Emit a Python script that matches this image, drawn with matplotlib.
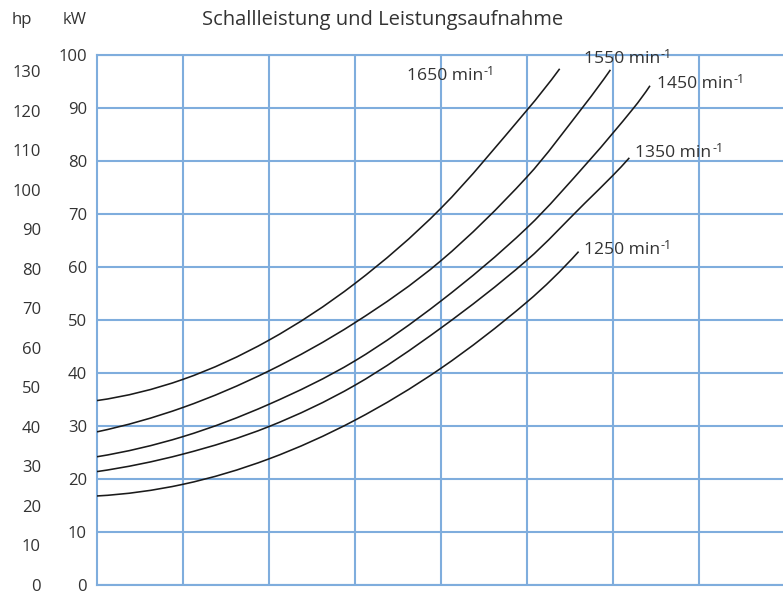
import matplotlib
matplotlib.use("Agg")
import matplotlib.pyplot as plt
import numpy as np
from matplotlib.path import Path
from matplotlib.patches import PathPatch

plt.rcParams['font.family'] = ['Open Sans', 'DejaVu Sans']

TITLE = "Schallleistung und Leistungsaufnahme"
KW_TICKS = list(range(0, 101, 10))
HP_TICKS = list(range(0, 131, 10))
KW_PER_HP = 0.7457

# curve values (grid crossings + line ends), x in grid units, y in kW
x_1650 = [0, 1, 2, 3, 4, 5, 5.38]
y_1650 = [34.8, 38.8, 46.2, 56.9, 71.1, 89.6, 97.4]

x_1550 = [0, 1, 2, 3, 4, 5, 5.67, 5.97]
y_1550 = [28.9, 33.5, 40.4, 49.5, 61.2, 77.0, 90.6, 97.2]

x_1450 = [0, 1, 2, 3, 4, 5, 5.73, 6.24, 6.43]
y_1450 = [24.2, 28.0, 34.1, 42.3, 53.6, 67.4, 80.2, 90.0, 94.2]

x_1350 = [0, 1, 2, 3, 4, 5, 5.67, 6, 6.19]
y_1350 = [21.4, 24.7, 29.9, 37.7, 48.5, 61.3, 72.0, 77.3, 80.6]

x_1250 = [0, 1, 2, 3, 4, 5, 5.60]
y_1250 = [16.8, 19.0, 23.8, 31.1, 40.9, 53.4, 62.9]

SPEEDS = ["1650", "1550", "1450", "1350", "1250"]
CURVES = [(x_1650, y_1650), (x_1550, y_1550), (x_1450, y_1450),
          (x_1350, y_1350), (x_1250, y_1250)]
# label anchor (left, baseline) in data units
LABEL_POS = [(3.60, 95.3), (5.66, 98.4), (6.51, 93.7), (6.26, 80.7), (5.66, 62.5)]

GRID = "#7FADDD"
TXT = "#333333"


def smooth_path(xs, ys):
    """Cubic Hermite (as bezier segments) through the read points."""
    x = np.asarray(xs, float)
    y = np.asarray(ys, float)
    m = np.empty_like(y)
    m[1:-1] = (y[2:] - y[:-2]) / (x[2:] - x[:-2])
    m[0] = 2 * (y[1] - y[0]) / (x[1] - x[0]) - m[1]
    m[-1] = 2 * (y[-1] - y[-2]) / (x[-1] - x[-2]) - m[-2]
    verts = [(x[0], y[0])]
    codes = [Path.MOVETO]
    for i in range(len(x) - 1):
        dx = x[i + 1] - x[i]
        verts += [(x[i] + dx / 3, y[i] + m[i] * dx / 3),
                  (x[i + 1] - dx / 3, y[i + 1] - m[i + 1] * dx / 3),
                  (x[i + 1], y[i + 1])]
        codes += [Path.CURVE4] * 3
    return Path(verts, codes)


W, H = 783, 594
fig = plt.figure(figsize=(W / 100, H / 100), dpi=100)
ax = fig.add_axes([97 / W, 9 / H, (W - 97) / W, (585 - 55) / H])

for (xs, ys) in CURVES:
    ax.add_patch(PathPatch(smooth_path(xs, ys), fill=False, edgecolor="#1a1a1a",
                           lw=1.15, capstyle="butt", zorder=3))

for sp, (lx, ly) in zip(SPEEDS, LABEL_POS):
    t = ax.text(lx, ly, f"{sp} min", fontsize=12.6, color=TXT,
                ha="left", va="baseline", zorder=4)
    ax.annotate("-1", xy=(1.0, 1.0), xycoords=t, xytext=(0.6, 2.2),
                textcoords="offset points", fontsize=9, color=TXT,
                ha="left", va="top", zorder=4)

ax.set_xlim(0, (W - 97) / 86)
ax.set_ylim(0, 100)
ax.set_xticks(range(1, 8))
ax.set_yticks(KW_TICKS)
ax.set_yticklabels([str(v) for v in KW_TICKS])
ax.tick_params(axis="x", length=0, labelbottom=False)
ax.tick_params(axis="y", length=0, pad=7.2, labelsize=12, labelcolor=TXT)
ax.grid(True, color=GRID, lw=1.5, zorder=1)
ax.set_axisbelow(True)
for side in ("left", "top", "bottom"):
    ax.spines[side].set_color(GRID)
    ax.spines[side].set_linewidth(1.5)
ax.spines["right"].set_visible(False)

sec = ax.secondary_yaxis("left", functions=(lambda kw: kw / KW_PER_HP,
                                            lambda hp: hp * KW_PER_HP))
sec.set_yticks(HP_TICKS)
sec.set_yticklabels([str(v) for v in HP_TICKS])
sec.tick_params(length=0, pad=40.3, labelsize=12, labelcolor=TXT)
sec.spines["left"].set_visible(False)

ty = 1 - 20 / H
fig.text(12 / W, ty, "hp", fontsize=12, color=TXT, ha="left", va="center")
fig.text(87 / W, ty, "kW", fontsize=12, color=TXT, ha="right", va="center")
fig.text(383 / W, ty, TITLE, fontsize=14.5, color=TXT, ha="center", va="center")

fig.savefig("out.png", dpi=100)
